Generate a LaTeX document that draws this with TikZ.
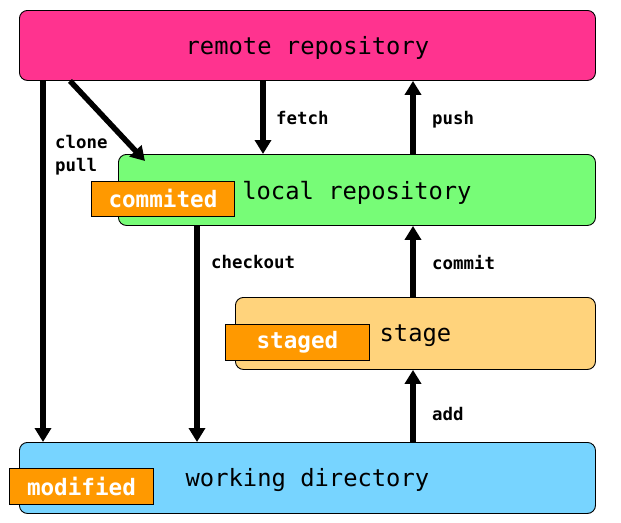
\documentclass[tikz,border=0pt]{standalone}
\usepackage{fontspec}
\setmonofont{DejaVu Sans Mono}
\usetikzlibrary{arrows.meta}
\definecolor{remotec}{HTML}{FF338F}
\definecolor{localc}{HTML}{77FC77}
\definecolor{stagec}{HTML}{FFD37C}
\definecolor{workc}{HTML}{77D4FF}
\definecolor{tagc}{HTML}{FF9900}
\newcommand{\lowered}[1]{\raisebox{-2.5pt}[\height][\depth]{#1}}
\begin{document}
\begin{tikzpicture}[x=1pt,y=-1pt,
  box/.style={draw=black, line width=0.9pt, rounded corners=8pt, inner sep=0pt, anchor=north west,
    font=\fontsize{23.8}{28}\selectfont\ttfamily},
  tagbox/.style={draw=black, line width=0.9pt, fill=tagc, inner sep=0pt, anchor=north west,
    text=white, font=\fontsize{22.6}{26}\selectfont\ttfamily\bfseries},
  lbl/.style={anchor=west, inner sep=0pt, font=\fontsize{17.4}{23}\selectfont\ttfamily\bfseries},
  arr/.style={line width=5.5pt, -{Triangle[width=16pt,length=14pt]}}]
\useasboundingbox (0,0) rectangle (621,522);
% main boxes
\node[box, fill=remotec, minimum width=576pt, minimum height=70pt] (remote) at (19,10) {\lowered{remote repository}};
\node[box, fill=localc, minimum width=477pt, minimum height=71pt] (local) at (118,154) {\lowered{local repository}};
\node[box, fill=stagec, minimum width=360pt, minimum height=72pt] (stage) at (235,297) {\lowered{stage}};
\node[box, fill=workc, minimum width=576pt, minimum height=71pt] (work) at (19,442) {\lowered{working directory}};
% state tags
\node[tagbox, minimum width=143pt, minimum height=35pt] (commited) at (91,181) {commited};
\node[tagbox, minimum width=144pt, minimum height=36pt] (staged) at (225,324) {staged};
\node[tagbox, minimum width=144pt, minimum height=36pt] (modified) at (9,468) {modified};
% helper x positions
\coordinate (xf) at (263,0);
\coordinate (xp) at (413,0);
\coordinate (xc) at (197,0);
% arrows
\draw[arr] ([xshift=24pt]remote.south west) -- ([xshift=24pt]work.north west);
\draw[arr] ([xshift=51pt]remote.south west) -- ([xshift=27pt,yshift=-7pt]local.north west);
\draw[arr] (remote.south -| xf) -- (local.north -| xf);
\draw[arr] (local.north -| xp) -- (remote.south -| xp);
\draw[arr] (local.south -| xc) -- (work.north -| xc);
\draw[arr] (stage.north -| xp) -- (local.south -| xp);
\draw[arr] (work.north -| xp) -- (stage.south -| xp);
% labels
\node[lbl, align=left] (lclone) at (55,155) {clone\\pull};
\node[lbl] (lfetch) at (276,118.5) {fetch};
\node[lbl] (lpush) at (432,119.5) {push};
\node[lbl] (lcheckout) at (211,262.5) {checkout};
\node[lbl] (lcommit) at (432,262.5) {commit};
\node[lbl] (ladd) at (432,414) {add};
\end{tikzpicture}
\end{document}
